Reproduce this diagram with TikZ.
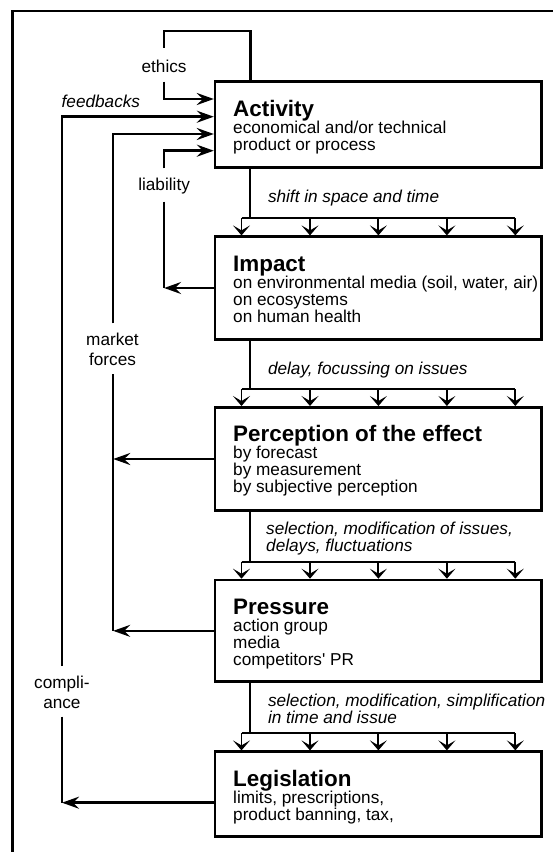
\documentclass[tikz,border=0pt]{standalone}
\usepackage{fontspec}
\setmainfont{Liberation Sans}
\newfontfamily\plainarial{Liberation Sans}
\usetikzlibrary{arrows.meta,calc}
\begin{document}
\begin{tikzpicture}[x=1pt,y=-1pt,
  conn/.style={line width=2.5pt},
  distline/.style={line width=1.9pt},
  mainarrow/.style={line width=2.5pt,-{Stealth[length=17pt,width=12pt,inset=6pt]}},
  downarrow/.style={line width=1.9pt,-{Stealth[length=10pt,width=17pt,inset=5pt]}},
  box/.style={draw,line width=2.6pt,inner sep=0pt,minimum width=326.2pt},
  titletext/.style={font=\plainarial\fontsize{22.4}{24}\selectfont\bfseries,anchor=base west,inner sep=0pt},
  bodytext/.style={font=\plainarial\fontsize{17.2}{17}\selectfont,anchor=base west,inner sep=0pt},
  sidelabel/.style={font=\plainarial\fontsize{17.2}{20}\selectfont,anchor=base,inner sep=0pt},
  itlabel/.style={font=\plainarial\fontsize{17.2}{17}\selectfont\itshape,anchor=base west,inner sep=0pt},
]
\useasboundingbox (0,0) rectangle (552,852);
% frame
\coordinate (frBL) at (12.3,853);
\coordinate (frTL) at (12.3,11);
\coordinate (frTR) at (553,11);
\draw[line width=2.5pt] (frBL) -- (frTL) -- (frTR);

% boxes
\node[box,minimum height=85.6pt]  (act) at (378.2,124.5) {};
\node[box,minimum height=102.6pt] (imp) at (378.2,288) {};
\node[box,minimum height=103.4pt] (per) at (378.2,459) {};
\node[box,minimum height=101.7pt] (pre) at (378.2,630.85) {};
\node[box,minimum height=85pt]    (leg) at (378.2,794.2) {};

% box texts
\node[titletext] (actT) at (233,116.2) {Activity};
\node[bodytext] (actA) at (233,133.2) {economical and/or technical};
\node[bodytext] (actB) at (233,150.2) {product or process};

\node[titletext] (impT) at (233,271.2) {Impact};
\node[bodytext] (impA) at (233,288.2) {on environmental media (soil, water, air)};
\node[bodytext] (impB) at (233,305.2) {on ecosystems};
\node[bodytext] (impC) at (233,322.2) {on human health};

\node[titletext] (perT) at (233,441.8) {Perception of the effect};
\node[bodytext] (perA) at (233,458.8) {by forecast};
\node[bodytext] (perB) at (233,475.8) {by measurement};
\node[bodytext] (perC) at (233,492.8) {by subjective perception};

\node[titletext] (preT) at (233,614.5) {Pressure};
\node[bodytext] (preA) at (233,631.5) {action group};
\node[bodytext] (preB) at (233,648.5) {media};
\node[bodytext] (preC) at (233,665.5) {competitors' PR};

\node[titletext] (legT) at (233,786.2) {Legislation};
\node[bodytext] (legA) at (233,803.2) {limits, prescriptions,};
\node[bodytext] (legB) at (233,820.2) {product banning, tax,};

% italic labels between boxes
\node[itlabel] (lab1) at (267.8,202.3) {shift in space and time};
\node[itlabel] (lab2) at (267.8,374) {delay, focussing on issues};
\node[itlabel] (lab3a) at (266,534.6) {selection, modification of issues,};
\node[itlabel] (lab3b) at (266,551.6) {delays, fluctuations};
\node[itlabel] (lab4a) at (267.8,706.3) {selection, modification, simplification};
\node[itlabel] (lab4b) at (267.8,723.3) {in time and issue};

% distributors
\foreach \a/\b in {act/imp,imp/per,per/pre,pre/leg}{
  \coordinate (\b-d) at ($(\b.north)+(0,-17)$);
  \coordinate (\b-s) at (250.3,0 |- \a.south);
  \coordinate (\b-j) at (250.3,0 |- \b-d);
  \coordinate (\b-l) at (241.5,0 |- \b-d);
  \coordinate (\b-r) at (515.3,0 |- \b-d);
  \draw[distline] (\b-s) -- (\b-j);
  \draw[distline] (\b-l) -- (\b-r);
  \foreach \x in {241.5,310,378.4,446.9,515.3}
    \draw[downarrow] (\x,0 |- \b-d) -- (\x,0 |- \b.north);
}

% side labels
\node[sidelabel] (ethL) at (164.1,72) {ethics};
\node[itlabel] (fbL) at (61.5,107) {feedbacks};
\node[sidelabel] (liabL) at (164.1,190.5) {liability};
\node[sidelabel] (mkA) at (112.5,345.5) {market};
\node[sidelabel] (mkB) at (112.5,365) {forces};
\node[sidelabel] (coA) at (61.9,688) {compli-};
\node[sidelabel] (coB) at (61.9,708.3) {ance};

% ethics loop
\coordinate (ethA) at (250.3,31);
\coordinate (ethB) at (164.1,31);
\coordinate (ethC) at (164.1,48.3);
\coordinate (ethD) at (164.1,81.7);
\coordinate (ethY) at (0,99);
\draw[conn] (act.north -| ethA) -- (ethA) -- (ethB) -- (ethC);
\draw[mainarrow] (ethD) |- (act.west |- ethY);

% feedbacks / compliance
\coordinate (fbY) at (0,116.7);
\coordinate (coGapTop) at (62,666);
\coordinate (coGapBot) at (62,716.7);
\coordinate (coCorner) at (62,802.7);
\draw[mainarrow] (coGapTop) |- (act.west |- fbY);
\draw[conn] (coGapBot) -- (coCorner);
\draw[mainarrow] (leg.west |- coCorner) -- (coCorner);

% market forces
\coordinate (mkY) at (0,134);
\coordinate (mkGapTop) at (113.2,323.3);
\coordinate (mkGapBot) at (113.2,374);
\coordinate (mkEnd) at (113.2,631);
\draw[mainarrow] (mkGapTop) |- (act.west |- mkY);
\draw[conn] (mkGapBot) -- (mkEnd);
\draw[mainarrow] (per.west) -- (per.west -| mkEnd);
\draw[mainarrow] (pre.west) -- (pre.west -| mkEnd);

% liability
\coordinate (liY) at (0,150.7);
\coordinate (liGapTop) at (164.1,168.3);
\coordinate (liGapBot) at (164.1,201.7);
\coordinate (liEnd) at (164.1,288);
\draw[mainarrow] (liGapTop) |- (act.west |- liY);
\draw[conn] (liGapBot) -- (liEnd);
\draw[mainarrow] (imp.west) -- (liEnd);
\end{tikzpicture}
\end{document}
